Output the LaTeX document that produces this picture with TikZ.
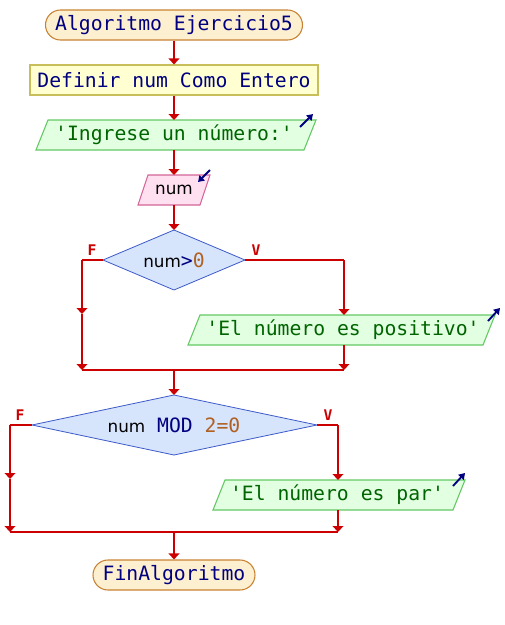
\documentclass[tikz,border=0pt]{standalone}
\usepackage{fontspec}
\setmonofont{DejaVu Sans Mono}
\setsansfont{DejaVu Sans}
\usetikzlibrary{arrows.meta,shapes.misc,shapes.geometric}
\definecolor{linered}{RGB}{204,0,0}
\definecolor{termfill}{RGB}{253,240,208}
\definecolor{termdraw}{RGB}{200,130,50}
\definecolor{deffill}{RGB}{255,255,210}
\definecolor{defdraw}{RGB}{200,190,90}
\definecolor{outfill}{RGB}{226,255,226}
\definecolor{outdraw}{RGB}{100,200,100}
\definecolor{infill}{RGB}{255,224,240}
\definecolor{indraw}{RGB}{210,100,150}
\definecolor{decfill}{RGB}{214,228,252}
\definecolor{decdraw}{RGB}{60,90,200}
\definecolor{navy}{RGB}{0,0,128}
\definecolor{strgreen}{RGB}{0,100,0}
\definecolor{numbrown}{RGB}{176,96,32}
\newcommand{\mainfnt}{\ttfamily\fontsize{14.8pt}{17pt}\selectfont}
\newcommand{\varfnt}{\sffamily\fontsize{12.6pt}{15pt}\selectfont}
\begin{document}
\begin{tikzpicture}[x=0.75pt,y=-0.75pt,
  term/.style={rounded rectangle, draw=termdraw, fill=termfill, line width=0.8pt,
    minimum height=22.5pt, inner sep=0pt, font=\mainfnt, text=navy},
  defbox/.style={rectangle, draw=defdraw, fill=deffill, line width=0.8pt,
    minimum height=22.5pt, inner sep=0pt, font=\mainfnt, text=navy},
  txt/.style={inner sep=0pt, minimum height=22.5pt, font=\mainfnt},
  outshape/.style={draw=outdraw, fill=outfill, line width=0.8pt},
  inshape/.style={draw=indraw, fill=infill, line width=0.8pt},
  flow/.style={draw=linered, line width=1.6pt, -{Triangle[width=8pt,length=4.5pt]}},
  flowline/.style={draw=linered, line width=1.6pt},
  icon/.style={draw=navy, line width=1.4pt, -{Triangle[width=5.5pt,length=4.5pt]}},
  lbl/.style={text=linered, font=\ttfamily\bfseries\fontsize{11pt}{13pt}\selectfont, inner sep=0pt}
]
\useasboundingbox (0,0) rectangle (504,625);

% start
\node[term, minimum width=192.75pt] (start) at (174,25) {Algoritmo Ejercicio5};
% define
\node[defbox, minimum width=216pt] (def) at (174,80) {Definir num Como Entero};

% output 1
\path[outshape] (36,150) -- (48,120) -- (316,120) -- (304,150) -- cycle;
\node[txt, text=strgreen] (out1) at (174,135) {'Ingrese un número:'};
\draw[icon] (300,127) -- (313,114);

% input
\path[inshape] (138,205) -- (148,175) -- (210,175) -- (200,205) -- cycle;
\node[txt, font=\varfnt] (in1) at (174,190) {num};
\draw[icon] (210,170) -- (198,182);

% decision 1
\path[draw=decdraw, fill=decfill, line width=0.6pt] (103,260) -- (174,230) -- (245,260) -- (174,290) -- cycle;
\node[txt, minimum height=45pt] (dec1) at (174,260) {\varfnt num\ttfamily\fontsize{14.8pt}{17pt}\selectfont\textcolor{navy}{>}\textcolor{numbrown}{0}};
\coordinate (d1w) at (103,260);
\coordinate (d1e) at (245,260);
\node[lbl] (f1) at (92,250) {F};
\node[lbl] (v1) at (256,250) {V};

% output 2
\path[outshape] (188,345) -- (200,315) -- (495,315) -- (483,345) -- cycle;
\node[txt, text=strgreen] (out2) at (343,330) {'El número es positivo'};
\draw[icon] (488,321) -- (500,308);

% decision 2
\path[draw=decdraw, fill=decfill, line width=0.6pt] (32,425) -- (174,395) -- (317,425) -- (174,455) -- cycle;
\node[txt, minimum height=45pt] (dec2) at (174,425) {\varfnt num\ttfamily\fontsize{14.8pt}{17pt}\selectfont\ \textcolor{navy}{MOD} \textcolor{numbrown}{2=0}};
\coordinate (d2w) at (32,425);
\coordinate (d2e) at (317,425);
\node[lbl] (f2) at (20,415) {F};
\node[lbl] (v2) at (328,415) {V};

% output 3
\path[outshape] (213,510) -- (225,480) -- (465,480) -- (453,510) -- cycle;
\node[txt, text=strgreen] (out3) at (337,495) {'El número es par'};
\draw[icon] (453,486) -- (465,473);

% end
\node[term, minimum width=121.5pt] (fin) at (174,575) {FinAlgoritmo};

% coordinates
\coordinate (o2n) at (344,315);
\coordinate (o2s) at (344,345);
\coordinate (o3n) at (338,480);
\coordinate (o3s) at (338,510);
\coordinate (l1a) at (82,260);
\coordinate (l1m) at (82,314);
\coordinate (l1b) at (82,370);
\coordinate (r1a) at (344,260);
\coordinate (r1b) at (344,370);
\coordinate (j1) at (174,370);
\coordinate (d1n) at (174,230);
\coordinate (d2n) at (174,395);
\coordinate (l2a) at (10,425);
\coordinate (l2m) at (10,479);
\coordinate (l2b) at (10,532);
\coordinate (r2a) at (338,425);
\coordinate (r2b) at (338,532);
\coordinate (j2) at (174,532);
\coordinate (o1n) at (174,120);
\coordinate (o1s) at (174,150);
\coordinate (i1n) at (174,175);
\coordinate (i1s) at (174,205);

% connectors
\draw[flow] (start.south) -- (def.north);
\draw[flow] (def.south) -- (o1n);
\draw[flow] (o1s) -- (i1n);
\draw[flow] (i1s) -- (d1n);
\draw[flowline] (d1w) -- (l1a);
\draw[flow] (l1a) -- (l1m);
\draw[flow] (l1m) -- (l1b);
\draw[flowline] (d1e) -- (r1a);
\draw[flow] (r1a) -- (o2n);
\draw[flow] (o2s) -- (r1b);
\draw[flowline] (l1b) -- (r1b);
\draw[flow] (j1) -- (d2n);
\draw[flowline] (d2w) -- (l2a);
\draw[flow] (l2a) -- (l2m);
\draw[flow] (l2m) -- (l2b);
\draw[flowline] (d2e) -- (r2a);
\draw[flow] (r2a) -- (o3n);
\draw[flow] (o3s) -- (r2b);
\draw[flowline] (l2b) -- (r2b);
\draw[flow] (j2) -- (fin.north);
\end{tikzpicture}
\end{document}
